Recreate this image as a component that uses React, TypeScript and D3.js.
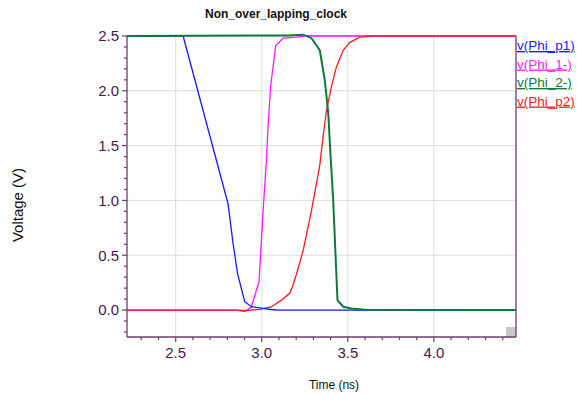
import React from "react";
import * as d3 from "d3";

// transient waveforms, time in ns, voltage in V
const phiP1: [number, number][] = [
  [2.217, 2.5], [2.543, 2.5], [2.804, 0.97], [2.833, 0.61], [2.859, 0.335],
  [2.901, 0.076], [2.94, 0.03], [3.008, 0.015], [3.056, 0.005], [3.1, 0], [4.477, 0],
];
const phi1n: [number, number][] = [
  [2.217, 0], [2.85, 0], [2.901, -0.015], [2.94, 0.03], [2.984, 0.26], [3.008, 0.91],
  [3.027, 1.37], [3.037, 1.69], [3.052, 2.05], [3.081, 2.41], [3.124, 2.48],
  [3.2, 2.49], [3.25, 2.5], [4.477, 2.5],
];
const phi2n: [number, number][] = [
  [2.217, 2.5], [3.15, 2.505], [3.24, 2.512], [3.289, 2.48], [3.337, 2.37],
  [3.366, 2.1], [3.386, 1.8], [3.4, 1.4], [3.415, 1.0], [3.428, 0.52],
  [3.44, 0.09], [3.473, 0.03], [3.52, 0.015], [3.6, 0.003], [4.477, 0],
];
const phiP2: [number, number][] = [
  [2.217, 0], [2.85, 0], [2.91, -0.005], [2.988, 0.006], [3.056, 0.03],
  [3.115, 0.09], [3.163, 0.155], [3.18, 0.22], [3.2, 0.32],
  [3.24, 0.54], [3.289, 0.91], [3.337, 1.32], [3.356, 1.58], [3.376, 1.82],
  [3.405, 2.04], [3.434, 2.22], [3.473, 2.37], [3.51, 2.44], [3.57, 2.49],
  [3.65, 2.5], [4.477, 2.5],
];

const seriesNames = ["v(Phi_p1)", "v(Phi_1-)", "v(Phi_2-)", "v(Phi_p2)"];
const seriesColors = ["#1a1aff", "#ff19ff", "#0b7a3c", "#ff1a1a"];
const xMajor = [2.5, 3.0, 3.5, 4.0];
const yMajor = [0, 0.5, 1.0, 1.5, 2.0, 2.5];

const W = 577;
const H = 394;
const left = 127;
const right = 516;
const top = 36;
const bottom = 337;

const axisColor = "#6e3c6e";
const labelColor = "#4a1848";
const font = "'Liberation Sans', Arial, sans-serif";

export default function App() {
  const x = d3.scaleLinear().domain([2.217, 4.477]).range([left, right]);
  const y = d3.scaleLinear().domain([-0.246, 2.5]).range([bottom, top]);
  const line = d3
    .line<[number, number]>()
    .x((d) => x(d[0]))
    .y((d) => y(d[1]));

  const xMinor = d3.range(23, 45).map((i) => i / 10);
  const yMinor = d3.range(-2, 26).map((i) => i / 10);

  // draw order: magenta, red, blue, green
  const layers = [
    { data: phi1n, c: seriesColors[1], w: 1.3 },
    { data: phiP2, c: seriesColors[3], w: 1.3 },
    { data: phiP1, c: seriesColors[0], w: 1.3 },
    { data: phi2n, c: seriesColors[2], w: 2 },
  ];

  return (
    <svg
      width={W}
      height={H}
      style={{ position: "absolute", left: 0, top: 0, background: "#fff" }}
      fontFamily={font}
    >
      <text x={276} y={18} textAnchor="middle" fontSize={12} fontWeight="bold" fill="#111">
        Non_over_lapping_clock
      </text>

      {/* grid */}
      {xMajor.map((t) => (
        <line key={"gx" + t} x1={x(t)} x2={x(t)} y1={top} y2={bottom} stroke="#dcdcdc" />
      ))}
      {yMajor.map((v) => (
        <line key={"gy" + v} x1={left} x2={right} y1={y(v)} y2={y(v)} stroke="#dcdcdc" />
      ))}
      <line x1={left} x2={right} y1={top - 0.5} y2={top - 0.5} stroke="#b8a8b8" />

      <rect x={right - 10} y={bottom - 10} width={10} height={10} fill="#c8c8c8" />

      {layers.map((l, i) => (
        <path key={i} d={line(l.data) ?? ""} fill="none" stroke={l.c} strokeWidth={l.w} />
      ))}

      {/* frame */}
      <line x1={left} x2={left} y1={top} y2={bottom} stroke={axisColor} strokeWidth={1.3} />
      <line x1={left} x2={right} y1={bottom} y2={bottom} stroke={axisColor} strokeWidth={1.3} />
      <line x1={right} x2={right} y1={top} y2={bottom} stroke={axisColor} strokeWidth={1.3} />

      {/* y ticks */}
      {yMinor.map((v) => {
        const major = Math.abs(v * 2 - Math.round(v * 2)) < 1e-6;
        return (
          <line
            key={"ty" + v}
            x1={left - (major ? 5 : 3)}
            x2={left}
            y1={y(v)}
            y2={y(v)}
            stroke={axisColor}
            strokeWidth={1.2}
          />
        );
      })}
      {yMajor.map((v) => (
        <text
          key={"ly" + v}
          x={119}
          y={y(v)}
          dy="0.36em"
          textAnchor="end"
          fontSize={15}
          fill={labelColor}
        >
          {v.toFixed(1)}
        </text>
      ))}

      {/* x ticks */}
      {xMinor.map((t) => {
        const major = Math.abs(t * 2 - Math.round(t * 2)) < 1e-6;
        return (
          <line
            key={"tx" + t}
            x1={x(t)}
            x2={x(t)}
            y1={bottom}
            y2={bottom + (major ? 5 : 3)}
            stroke={axisColor}
            strokeWidth={1.2}
          />
        );
      })}
      {xMajor.map((t) => (
        <text key={"lx" + t} x={x(t)} y={358} textAnchor="middle" fontSize={15} fill={labelColor}>
          {t.toFixed(1)}
        </text>
      ))}

      <text x={334} y={389} textAnchor="middle" fontSize={12} fill="#111">
        Time (ns)
      </text>
      <text
        transform="translate(23,205) rotate(-90)"
        textAnchor="middle"
        fontSize={15}
        fill="#111"
      >
        Voltage (V)
      </text>

      {/* legend */}
      {seriesNames.map((n, i) => (
        <text
          key={n}
          x={517}
          y={50 + i * 18.5}
          fontSize={13.5}
          fill={seriesColors[i]}
          textDecoration="underline"
        >
          {n}
        </text>
      ))}
    </svg>
  );
}
